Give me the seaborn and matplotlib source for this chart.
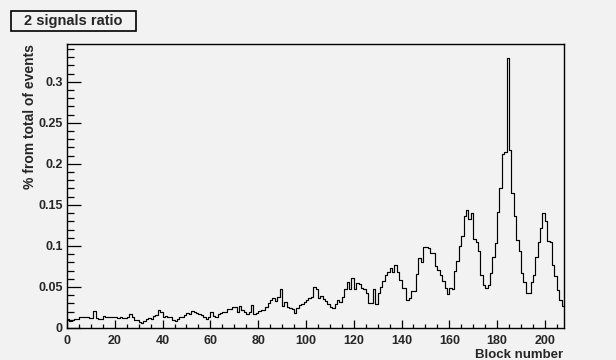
import numpy as np
import pandas as pd
import matplotlib
matplotlib.use("Agg")
import matplotlib.pyplot as plt
import matplotlib.ticker as mticker
from matplotlib.patches import Rectangle
import seaborn as sns

##### DATA: ONE VALUE PER BLOCK (0..207) #####
n_blocks = 208
block_centers = np.arange(n_blocks) + 0.5

ratio = [
    0.011, 0.008, 0.010, 0.011, 0.011, 0.013, 0.014, 0.013, 0.013, 0.012,
    0.012, 0.021, 0.012, 0.011, 0.011, 0.015, 0.013, 0.013, 0.014, 0.013,
    0.013, 0.012, 0.013, 0.012, 0.012, 0.014, 0.017, 0.013, 0.010, 0.010,
    0.007, 0.006, 0.008, 0.011, 0.012, 0.011, 0.015, 0.016, 0.022, 0.019,
    0.013,
    0.0146, 0.014, 0.013, 0.010, 0.009, 0.011, 0.013, 0.013, 0.016, 0.018,
    0.017, 0.021, 0.020, 0.018, 0.017, 0.016, 0.014, 0.011, 0.013, 0.020,
    0.015, 0.014, 0.017, 0.018, 0.019, 0.020, 0.023, 0.023, 0.026, 0.026,
    0.020, 0.027, 0.022, 0.020, 0.017, 0.019, 0.028, 0.017, 0.018, 0.021,
    0.022,
    0.022, 0.025, 0.030, 0.034, 0.036, 0.033, 0.038, 0.047, 0.027, 0.032,
    0.025, 0.024, 0.023, 0.018, 0.024, 0.028, 0.029, 0.032, 0.034, 0.036,
    0.038, 0.050, 0.048, 0.037, 0.039, 0.035, 0.033, 0.029, 0.026, 0.024,
    0.029, 0.034, 0.032, 0.038, 0.048, 0.056, 0.048, 0.061, 0.047, 0.055,
    0.053,
    0.049, 0.047, 0.043, 0.031, 0.031, 0.047, 0.029, 0.043, 0.050, 0.057,
    0.065, 0.068, 0.073, 0.068, 0.077, 0.068, 0.058, 0.049, 0.049, 0.034,
    0.037, 0.045, 0.045, 0.066, 0.085, 0.080, 0.099, 0.099, 0.098, 0.091,
    0.091, 0.075, 0.071, 0.065, 0.057, 0.049, 0.041, 0.049, 0.047, 0.069,
    0.082,
    0.100, 0.112, 0.137, 0.144, 0.133, 0.140, 0.109, 0.105, 0.094, 0.065,
    0.052, 0.049, 0.052, 0.067, 0.087, 0.104, 0.141, 0.171, 0.212, 0.215,
    0.329, 0.217, 0.165, 0.137, 0.107, 0.094, 0.067, 0.056, 0.043, 0.043,
    0.056, 0.064, 0.087, 0.105, 0.122, 0.140, 0.130, 0.106, 0.105, 0.077,
    0.063, 0.046, 0.034, 0.027,
]

title_text = "2 signals ratio"
x_label = "Block number"
y_label = "% from total of events"

df = pd.DataFrame({"block": block_centers, "ratio": ratio})

##### STYLE #####
bg = "#f2f2f2"
sns.set_style("ticks")
plt.rcParams["font.family"] = ["Liberation Sans", "DejaVu Sans"]
plt.rcParams["font.weight"] = "bold"

fig = plt.figure(figsize=(6.16, 3.6), dpi=100, facecolor=bg)
ax = fig.add_axes([67 / 616, 1 - 328 / 360, (564 - 67) / 616, (328 - 44) / 360])
ax.set_facecolor(bg)

##### HISTOGRAM #####
sns.histplot(data=df, x="block", weights="ratio", bins=n_blocks,
             binrange=(0, n_blocks), element="step", fill=False,
             color="black", linewidth=0.85, ax=ax)

ax.set_xlim(0, 208)
ax.set_ylim(0, 0.346)

# ticks: inside, left/bottom only
ax.xaxis.set_major_locator(mticker.MultipleLocator(20))
ax.xaxis.set_minor_locator(mticker.MultipleLocator(5))
ax.yaxis.set_major_locator(mticker.MultipleLocator(0.05))
ax.yaxis.set_minor_locator(mticker.MultipleLocator(0.01))
ax.yaxis.set_major_formatter(mticker.FuncFormatter(lambda v, p: f"{v:g}"))

ax.tick_params(which="both", direction="in", top=False, right=False,
               color="black", width=0.9, labelsize=9)
ax.tick_params(axis="x", which="major", length=5.8, pad=5)
ax.tick_params(axis="x", which="minor", length=2.9)
ax.tick_params(axis="y", which="major", length=10, pad=3)
ax.tick_params(axis="y", which="minor", length=5)

for s in ax.spines.values():
    s.set_color("black")
    s.set_linewidth(1)

ax.set_xlabel("")
ax.set_ylabel("")
fig.text(563 / 616, 1 - 358 / 360, x_label, ha="right", va="baseline",
         fontsize=9.5, fontweight="bold")
fig.text(30 / 616, 1 - 44 / 360, y_label, ha="center", va="top",
         rotation=90, fontsize=10, fontweight="bold")

##### TITLE BOX #####
fig.patches.append(Rectangle((11 / 616, 1 - 31 / 360), 125 / 616, 20 / 360,
                             transform=fig.transFigure, facecolor=bg,
                             edgecolor="black", linewidth=1.2))
fig.text(73.5 / 616, 1 - 21 / 360, title_text, ha="center", va="center",
         fontsize=10.5, fontweight="bold")

fig.savefig("out.png", dpi=100, facecolor=bg)
